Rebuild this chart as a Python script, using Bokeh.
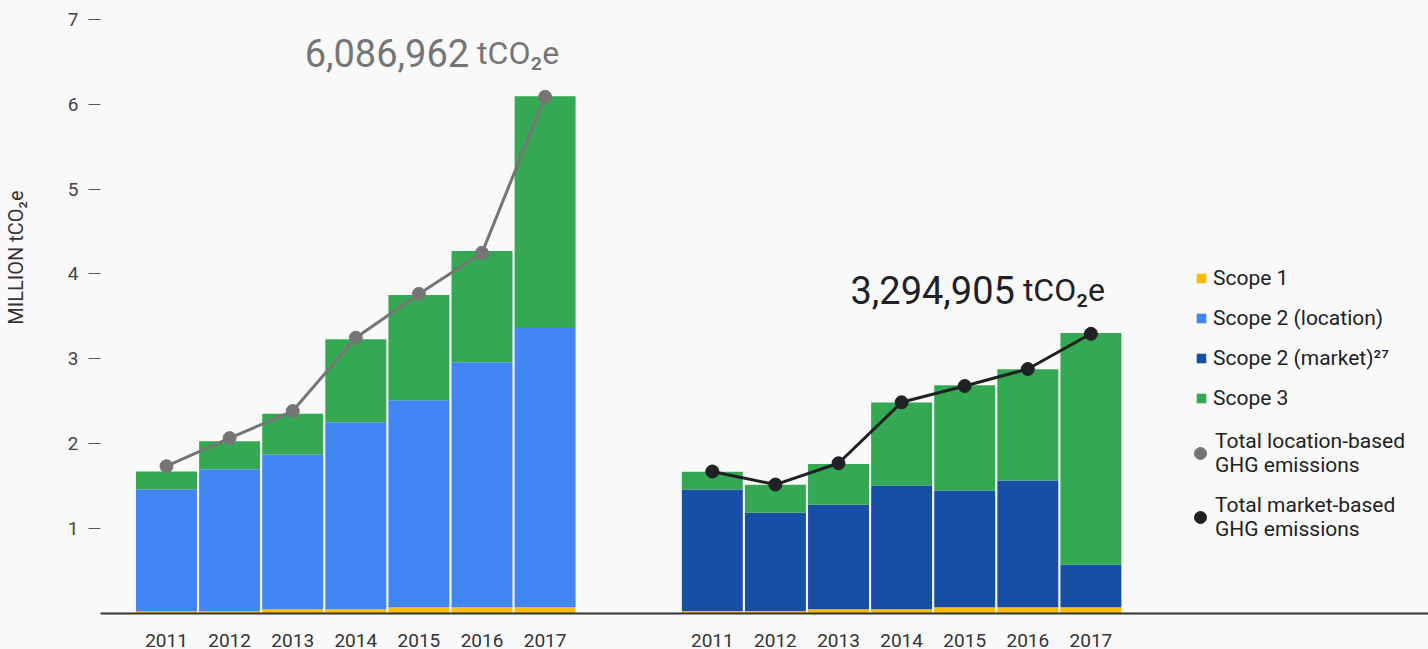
from bokeh.plotting import figure
from bokeh.models import (ColumnDataSource, Range1d, FixedTicker, Legend, LegendItem, Label,
                          Title, LinearAxis, GlobalInlineStyleSheet)
from bokeh.embed import file_html
from bokeh.resources import INLINE

# ---- data (million tCO2e) ----
years = ["2011", "2012", "2013", "2014", "2015", "2016", "2017"]
scope1 = [0.03, 0.03, 0.05, 0.05, 0.075, 0.075, 0.075]
scope2_location = [1.433, 1.670, 1.824, 2.202, 2.437, 2.886, 3.288]
scope2_market = [1.430, 1.158, 1.232, 1.457, 1.373, 1.491, 0.498]
scope3 = [0.21, 0.33, 0.48, 0.98, 1.24, 1.31, 2.73]
total_location = [1.735, 2.066, 2.385, 3.248, 3.765, 4.249, 6.087]
total_market = [1.673, 1.519, 1.770, 2.488, 2.680, 2.880, 3.295]
total_2017_text = ["6,086,962", "3,294,905"]
y_ticks = [1, 2, 3, 4, 5, 6, 7]

FONT = "Roboto"
BG = "#f9f9f9"
C_S1 = "#fbbc04"
C_S2L = "#4285f4"
C_S2M = "#174ea6"
C_S3 = "#34a853"
C_TL = "#757575"
C_TM = "#202124"

GROUP_OFFSET = 8.65
left_x = [float(i) for i in range(len(years))]
right_x = [i + GROUP_OFFSET for i in range(len(years))]

src_left = ColumnDataSource(dict(x=left_x, s1=scope1, s2=scope2_location, s3=scope3, tot=total_location))
src_right = ColumnDataSource(dict(x=right_x, s1=scope1, s2=scope2_market, s3=scope3, tot=total_market))

p = figure(width=1428, height=649, output_backend="svg", toolbar_location=None,
           x_range=Range1d(-1.046, 20.0), y_range=Range1d(0, 7.08),
           background_fill_color=BG, border_fill_color=BG,
           min_border_top=12, min_border_right=0, min_border_left=100, min_border_bottom=0)
p.outline_line_color = None
p.grid.visible = False
p.stylesheets = [GlobalInlineStyleSheet(css="html, body { background-color: #f9f9f9; }")]

rl = p.vbar_stack(["s1", "s2", "s3"], x="x", width=0.966, color=[C_S1, C_S2L, C_S3],
                  line_color=None, source=src_left)
rr = p.vbar_stack(["s1", "s2", "s3"], x="x", width=0.966, color=[C_S1, C_S2M, C_S3],
                  line_color=None, source=src_right)

p.line("x", "tot", source=src_left, line_color=C_TL, line_width=3)
sl = p.scatter("x", "tot", source=src_left, size=13, fill_color=C_TL, line_color=C_TL)
p.line("x", "tot", source=src_right, line_color=C_TM, line_width=3)
sm = p.scatter("x", "tot", source=src_right, size=13, fill_color=C_TM, line_color=C_TM)

# total annotations
for xs, tots, txt, col in [(left_x, total_location, total_2017_text[0], C_TL),
                           (right_x, total_market, total_2017_text[1], C_TM)]:
    p.add_layout(Label(x=xs[-1], y=tots[-1], text="tCO\u2082e", text_align="right",
                       text_baseline="alphabetic", x_offset=14, y_offset=44,
                       text_font=FONT, text_font_size="32px", text_color=col))
    p.add_layout(Label(x=xs[-1], y=tots[-1], text=txt, text_align="right",
                       text_baseline="alphabetic", x_offset=-76, y_offset=44,
                       text_font=FONT, text_font_size="38px", text_color=col))

# axes
xa = p.xaxis[0]
xa.ticker = FixedTicker(ticks=left_x + right_x)
xa.major_label_overrides = {x: y for x, y in zip(left_x + right_x, years + years)}
xa.major_tick_line_color = None
xa.major_tick_in = 0
xa.major_tick_out = 0
xa.minor_tick_line_color = None
xa.axis_line_color = "#333333"
xa.axis_line_width = 2
xa.major_label_standoff = 20
xa.major_label_text_font = FONT
xa.major_label_text_font_size = "19px"
xa.major_label_text_color = "#333333"

ya = p.yaxis[0]
ya.ticker = FixedTicker(ticks=y_ticks)
ya.axis_line_color = None
ya.minor_tick_line_color = None
ya.major_tick_in = 0
ya.major_tick_out = 12
ya.major_tick_line_color = "#555555"
ya.major_label_standoff = 10
ya.major_label_text_font = FONT
ya.major_label_text_font_size = "19px"
ya.major_label_text_color = "#444444"

# invisible spacer axis between the tick labels and the vertical axis title
spacer = LinearAxis(ticker=FixedTicker(ticks=[0]), axis_line_color=None,
                    major_tick_line_color=None, minor_tick_line_color=None,
                    major_tick_in=0, major_tick_out=35, minor_tick_in=0, minor_tick_out=0,
                    major_label_standoff=0, major_label_overrides={0: ""},
                    major_label_text_alpha=0)
p.add_layout(spacer, "left")

ylab = Title(text="MILLION tCO\u2082e", align="right", offset=178, vertical_align="top",
             text_font=FONT, text_font_size="20px", text_font_style="normal",
             text_color="#333333", standoff=0)
p.add_layout(ylab, "left")

legend1 = Legend(items=[
    LegendItem(label="Scope 1", renderers=[rl[0]]),
    LegendItem(label="Scope 2 (location)", renderers=[rl[1]]),
    LegendItem(label="Scope 2 (market)\u00b2\u2077", renderers=[rr[1]]),
    LegendItem(label="Scope 3", renderers=[rl[2]]),
], location=(1095, 203), orientation="vertical", glyph_width=12, glyph_height=12,
   label_text_font=FONT, label_text_font_size="21px", label_text_color="#202124",
   label_standoff=6, label_height=22, spacing=16, padding=0, margin=0,
   border_line_color=None, background_fill_alpha=0)
legend2 = Legend(items=[
    LegendItem(label="Total location-based\nGHG emissions", renderers=[sl]),
    LegendItem(label="Total market-based\nGHG emissions", renderers=[sm]),
], location=(1085, 72), orientation="vertical", glyph_width=30, glyph_height=30,
   label_text_font=FONT, label_text_font_size="21px", label_text_color="#202124",
   label_standoff=0, label_height=22, spacing=16, padding=0, margin=0,
   border_line_color=None, background_fill_alpha=0)
p.add_layout(legend1)
p.add_layout(legend2)

open("out.html", "w").write(file_html(p, INLINE))
